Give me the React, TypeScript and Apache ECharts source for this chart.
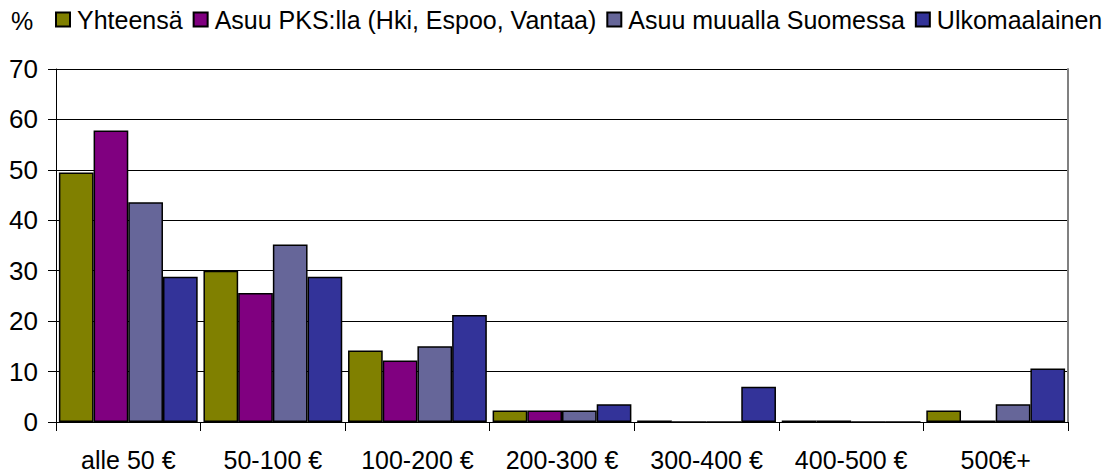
import React, { useEffect, useRef } from "react";
import * as echarts from "echarts";

const categories = ["alle 50 €", "50-100 €", "100-200 €", "200-300 €", "300-400 €", "400-500 €", "500€+"];
const seriesNames = ["Yhteensä", "Asuu PKS:lla (Hki, Espoo, Vantaa)", "Asuu muualla Suomessa", "Ulkomaalainen"];
const yhteensa = [49.5, 30.0, 14.2, 2.3, 0.3, 0.3, 2.3];
const pks = [57.8, 25.6, 12.2, 2.3, 0, 0.3, 0.3];
const muualla = [43.6, 35.2, 15.0, 2.3, 0, 0, 3.5];
const ulkomaalainen = [28.8, 28.8, 21.2, 3.5, 7.0, 0, 10.6];
const colors = ["#808000", "#800080", "#666699", "#333399"];
const yTicks = { min: 0, max: 70, interval: 10 };

const FONT = "'Liberation Sans', Arial, sans-serif";

export default function App() {
  const ref = useRef<HTMLDivElement>(null);
  useEffect(() => {
    if (!ref.current) return;
    const chart = echarts.init(ref.current, undefined, { renderer: "svg" });
    const data = [yhteensa, pks, muualla, ulkomaalainen];
    chart.setOption({
      animation: false,
      backgroundColor: "#ffffff",
      textStyle: { fontFamily: FONT },
      graphic: [
        {
          type: "text",
          left: 11,
          top: 8,
          style: { text: "%", font: `25px ${FONT}`, fill: "#000" },
        },
      ],
      legend: {
        left: 55,
        top: 7,
        width: 1050,
        padding: 0,
        itemWidth: 14,
        itemHeight: 14,
        itemGap: 10,
        icon: "rect",
        textStyle: { fontSize: 25, color: "#000", fontFamily: FONT, padding: [0, 0, 0, 2] },
        data: seriesNames,
      },
      grid: { left: 56, right: 37, top: 69, bottom: 52, containLabel: false, outerBoundsMode: "none" },
      xAxis: {
        type: "category",
        data: categories,
        boundaryGap: true,
        axisLine: { lineStyle: { color: "#000", width: 1 } },
        axisTick: { show: true, length: 9, interval: 0, lineStyle: { color: "#000" } },
        axisLabel: { fontSize: 25, lineHeight: 24, color: "#000", margin: 26, interval: 0, fontFamily: FONT },
      },
      yAxis: [
        {
          type: "value",
          min: yTicks.min,
          max: yTicks.max,
          interval: yTicks.interval,
          axisLine: { show: true, lineStyle: { color: "#000", width: 1 } },
          axisTick: { show: true, length: 8, lineStyle: { color: "#000" } },
          axisLabel: { fontSize: 26, color: "#000", margin: 18, fontFamily: FONT },
          splitLine: { show: true, lineStyle: { color: "#000", width: 1 } },
        },
        {
          type: "value",
          position: "right",
          min: yTicks.min,
          max: yTicks.max,
          interval: yTicks.interval,
          axisLine: { show: true, lineStyle: { color: "#808080", width: 2 } },
          axisTick: { show: false },
          axisLabel: { show: false },
          splitLine: { show: false },
        },
      ],
      series: seriesNames.map((name, i) => ({
        name,
        type: "bar",
        data: data[i],
        barGap: "0%",
        barCategoryGap: "4%",
        itemStyle: { color: colors[i], borderColor: "#000", borderWidth: 1.5 },
      })),
    });
    return () => chart.dispose();
  }, []);
  return <div ref={ref} style={{ width: 1105, height: 474, position: "absolute", left: 0, top: 0 }} />;
}
